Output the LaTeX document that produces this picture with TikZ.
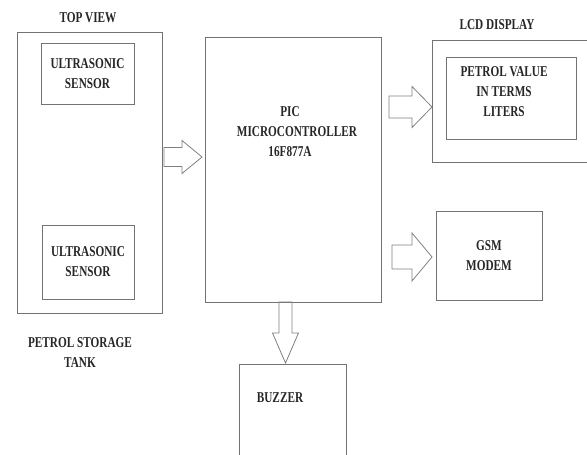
\documentclass[tikz,border=0pt]{standalone}
\usepackage{fontspec}
\setmainfont{Liberation Serif}[FakeStretch=0.75]
\usepackage{xcolor}
\usepackage{tikz}

\tikzset{
  blk/.style={rectangle,draw=black!55,line width=1pt},
  lbl/.style={align=center,text=black!85,font=\fontsize{15}{20}\selectfont\bfseries},
  hollow/.style={draw=black!50,line width=0.8pt,line join=miter},
}
% hollow block arrow: tail point, rotation, shaft length, total length, shaft half width, head half width
\newcommand{\hollowarrow}[6]{%
  \begin{scope}[shift={(#1)},rotate=#2]
    \draw[hollow] (0,-#5) -- (#3,-#5) -- (#3,-#6) -- (#4,0) -- (#3,#6) -- (#3,#5) -- (0,#5) -- cycle;
  \end{scope}}

\begin{document}
\begin{tikzpicture}[x=1pt,y=-1pt]
\useasboundingbox (0,0) rectangle (587,455);
% tank, top view
\node (topview) at (88,18) [lbl] {TOP VIEW};
\node (tank) at (89.5,172.5) [blk,minimum width=145pt,minimum height=281pt] {};
\node (sens1) at (87.5,73.5) [blk,lbl,minimum width=93pt,minimum height=61pt] {ULTRASONIC\\SENSOR};
\node (sens2) at (88,262) [blk,lbl,minimum width=92pt,minimum height=74pt] {ULTRASONIC\\SENSOR};
\node (tankname) at (80,353) [lbl] {PETROL STORAGE\\TANK};
% controller
\node (micro) at (293,169.5) [blk,minimum width=176pt,minimum height=265pt] {};
\node (microname) at (290,132) [lbl] {PIC\\\hspace*{14pt}MICROCONTROLLER\\16F877A};
% lcd
\node (lcdname) at (497,25) [lbl] {LCD DISPLAY};
\node (lcd) at (511,101) [blk,minimum width=158pt,minimum height=122pt] {};
\node (lcdin) at (511,98) [blk,minimum width=130pt,minimum height=82pt] {};
\node (lcdtext) at (504,92) [lbl] {PETROL VALUE\\IN TERMS\\LITERS};
% gsm
\node (gsm) at (489,255.5) [blk,lbl,minimum width=106pt,minimum height=89pt] {GSM\\MODEM};
% buzzer
\node (buzzer) at (292.5,417) [blk,minimum width=107pt,minimum height=106pt] {};
\node (buzzname) at (280,398) [lbl] {BUZZER};
% arrows
\coordinate (t1) at (164,157);
\coordinate (t2) at (389,107);
\coordinate (t3) at (392,257);
\coordinate (t4) at (285.5,302);
\hollowarrow{t1}{0}{18}{38}{9.5}{16.5}
\hollowarrow{t2}{0}{23}{43}{11}{20.5}
\hollowarrow{t3}{0}{20}{40}{12}{24}
\hollowarrow{t4}{-90}{31}{61}{6.5}{13}
\end{tikzpicture}
\end{document}
